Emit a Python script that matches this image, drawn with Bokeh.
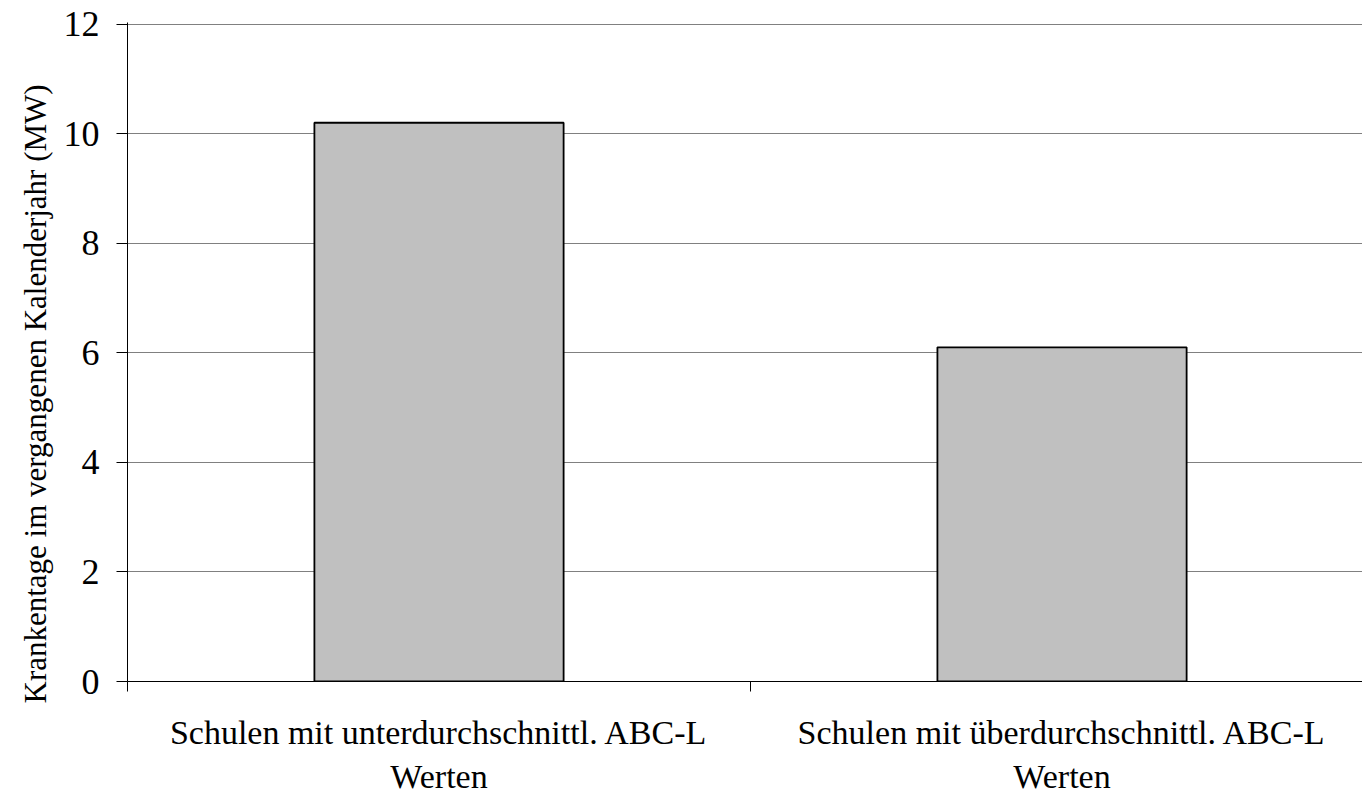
import math
from bokeh.plotting import figure
from bokeh.models import FixedTicker, Title, ColumnDataSource
from bokeh.embed import file_html
from bokeh.resources import INLINE

# ---- data ----
categories = ["Schulen mit unterdurchschnittl. ABC-L\nWerten",
              "Schulen mit überdurchschnittl. ABC-L\nWerten"]
positions = [0.5, 1.5]
values = [10.2, 6.1]
y_ticks = [0, 2, 4, 6, 8, 10, 12]
y_title = "Krankentage im vergangenen Kalenderjahr (MW)"

FONT = "Liberation Serif"

p = figure(width=1362, height=800, output_backend="svg", toolbar_location=None,
           x_range=(0, 1.9823), y_range=(0, 12.03),
           min_border_left=127, min_border_top=22, min_border_right=0,
           min_border_bottom=119)
p.outline_line_color = None
p.background_fill_color = "white"
p.border_fill_color = "white"

src = ColumnDataSource(dict(x=positions, top=values))
p.vbar(x="x", top="top", width=0.4, bottom=0, source=src,
       fill_color="#C0C0C0", line_color="black", line_width=1.8)

# y axis
p.yaxis.ticker = FixedTicker(ticks=y_ticks, minor_ticks=[])
p.yaxis.major_tick_out = 11
p.yaxis.major_tick_in = 0
p.yaxis.minor_tick_out = 0
p.yaxis.major_label_standoff = 17
p.yaxis.major_label_text_font = FONT
p.yaxis.major_label_text_font_size = "36px"
p.yaxis.major_label_text_color = "black"
p.yaxis.axis_line_color = "black"
p.yaxis.major_tick_line_color = "black"

p.ygrid.ticker = FixedTicker(ticks=y_ticks)
p.ygrid.grid_line_color = "#808080"
p.xgrid.grid_line_color = None

# x axis
p.xaxis.ticker = FixedTicker(ticks=positions, minor_ticks=[0, 1, 2])
p.xaxis.major_label_overrides = {pos: lab for pos, lab in zip(positions, categories)}
p.xaxis.major_tick_out = 0
p.xaxis.major_tick_in = 0
p.xaxis.minor_tick_out = 10
p.xaxis.minor_tick_in = 0
p.xaxis.minor_tick_line_color = "black"
p.xaxis.axis_line_color = "black"
p.xaxis.major_label_standoff = 22
p.xaxis.major_label_text_font = FONT
p.xaxis.major_label_text_font_size = "34px"
p.xaxis.major_label_text_color = "black"
p.xaxis.major_label_text_align = "center"

ttl = Title(text=y_title, align="left", offset=-22,
            text_font=FONT, text_font_size="31px", text_font_style="normal",
            text_color="black", standoff=16)
p.add_layout(ttl, "left")

open("out.html", "w").write(file_html(p, INLINE))
